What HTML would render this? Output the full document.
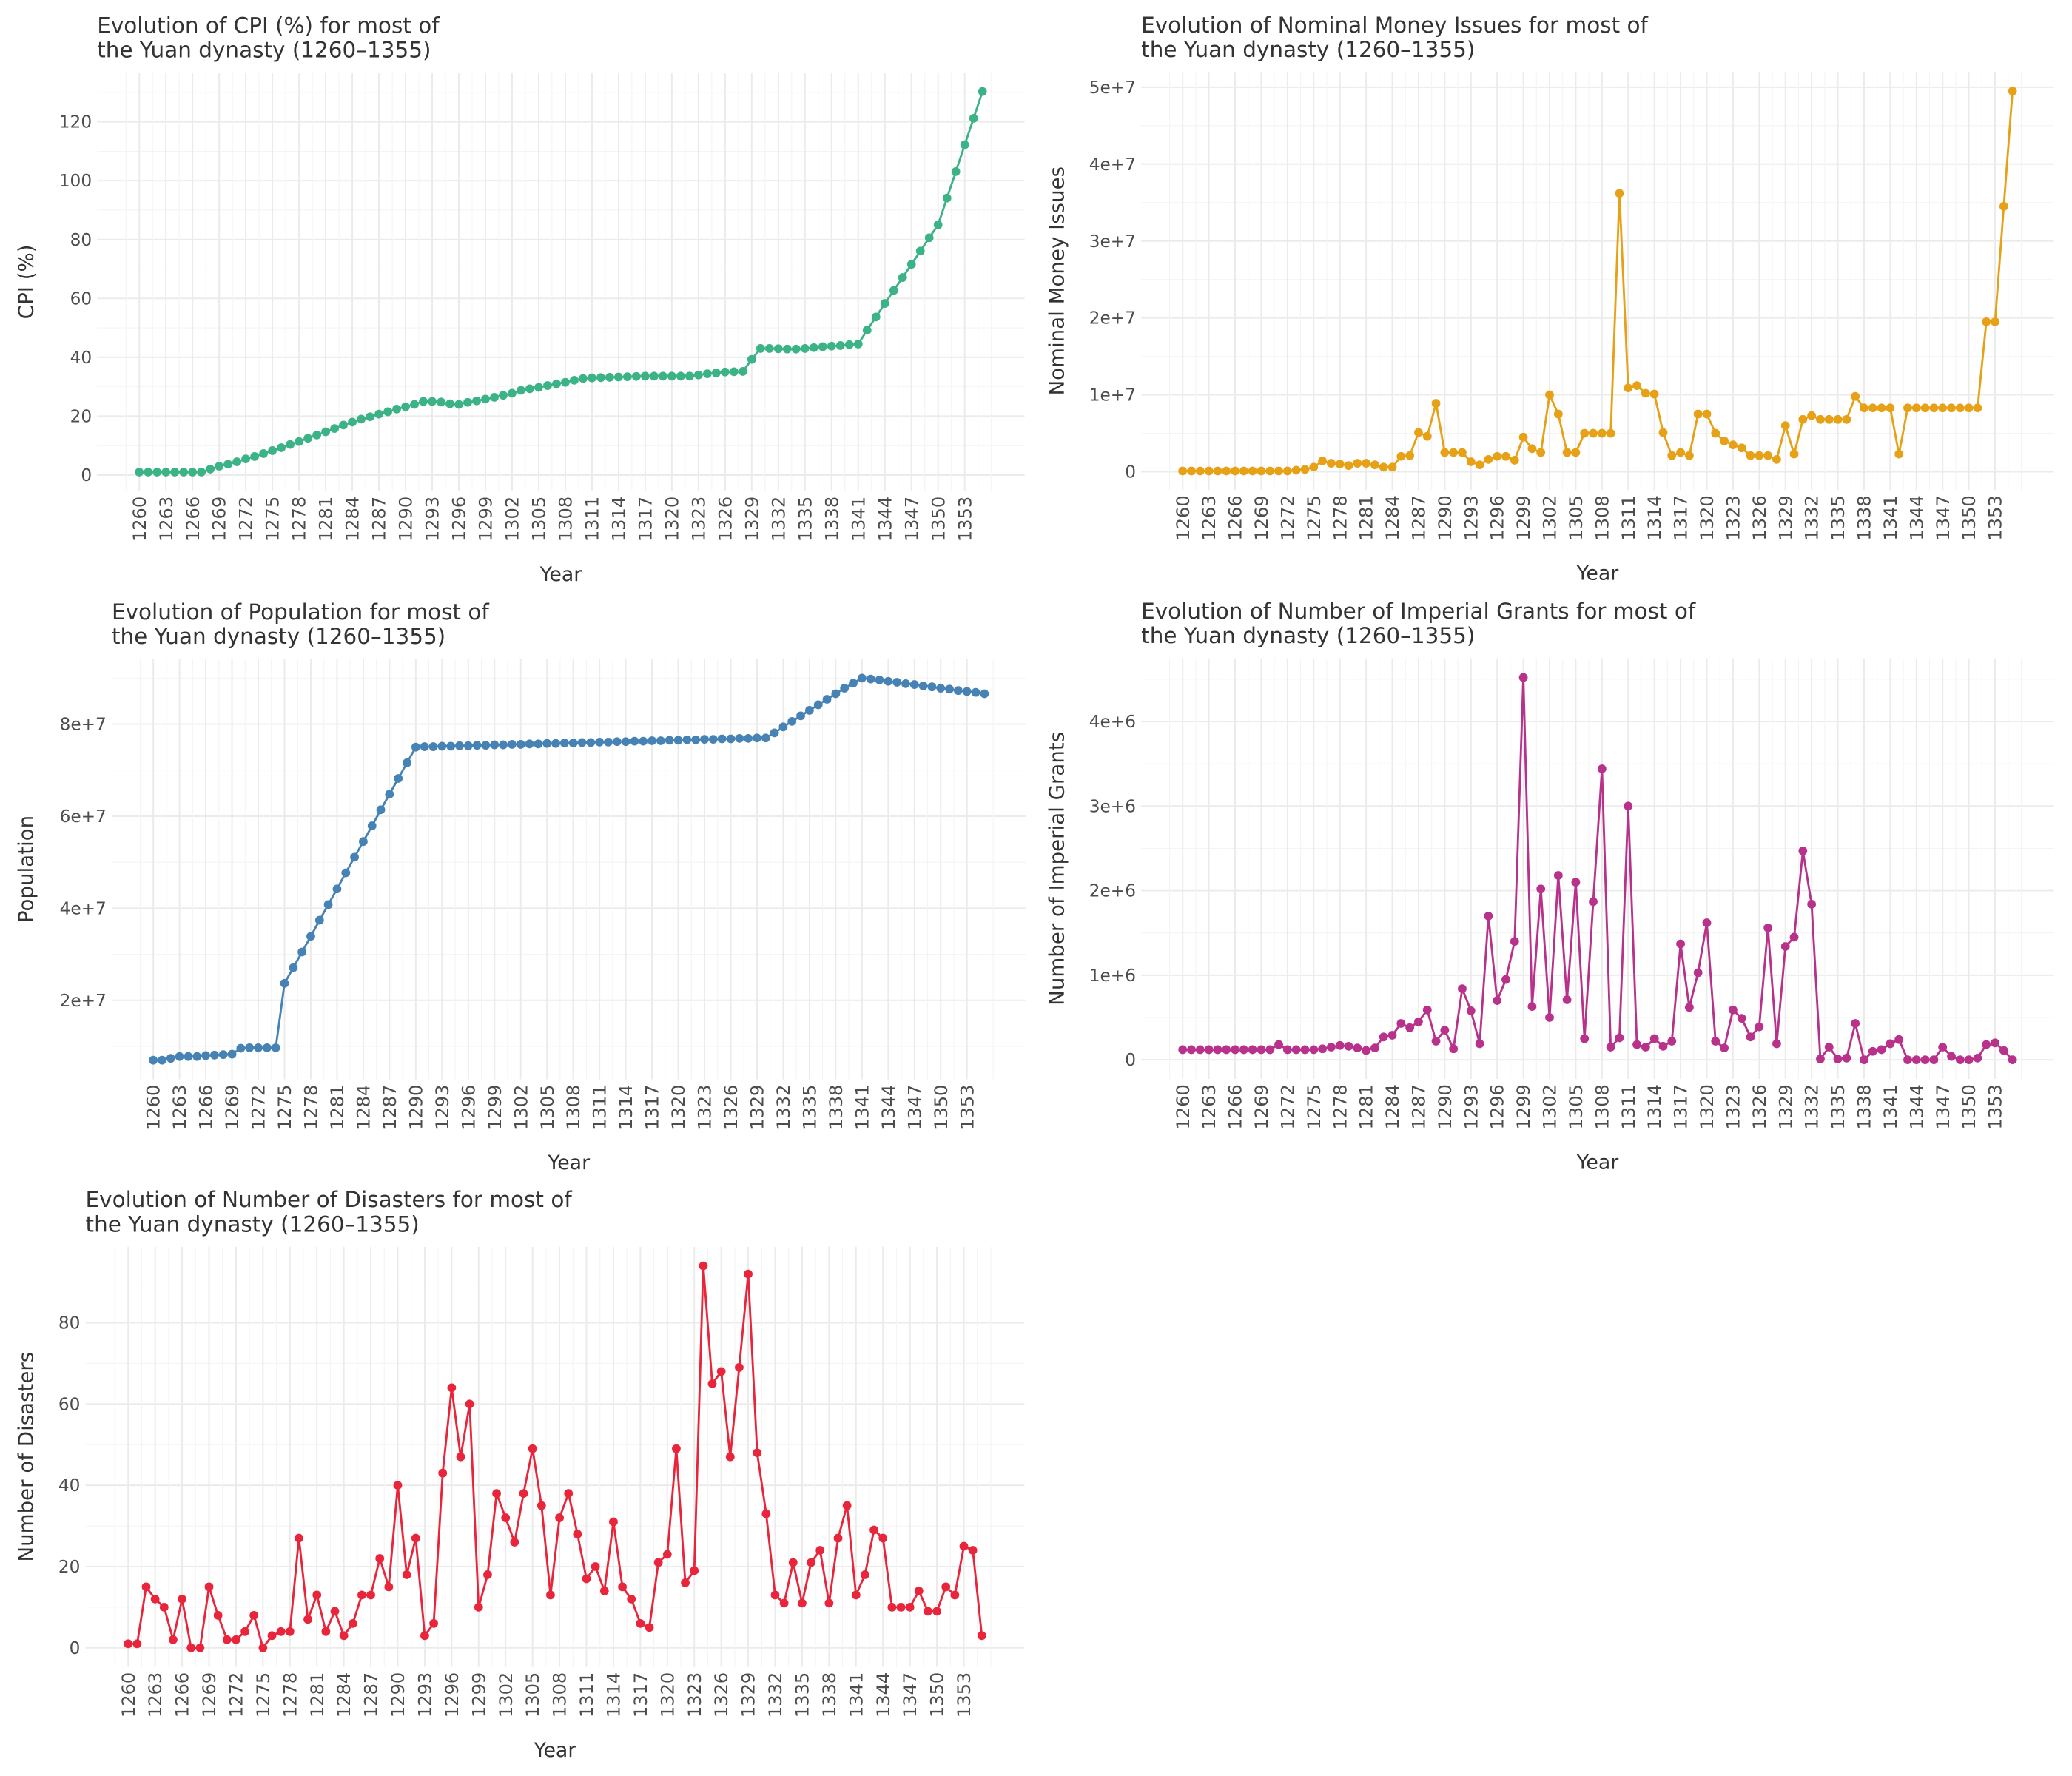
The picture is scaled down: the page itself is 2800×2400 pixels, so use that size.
<!DOCTYPE html>
<html><head><meta charset="utf-8"><style>
html,body{margin:0;padding:0;background:#fff;}
svg{display:block;}
</style></head><body>
<svg id="chart" xmlns="http://www.w3.org/2000/svg" width="2800" height="2400" viewBox="0 0 1568 1344"></svg>
<script>
const years = [];
for (let y = 1260; y <= 1355; y++) years.push(y);
const xTickLabels = [1260,1263,1266,1269,1272,1275,1278,1281,1284,1287,1290,1293,1296,1299,1302,1305,1308,1311,1314,1317,1320,1323,1326,1329,1332,1335,1338,1341,1344,1347,1350,1353];

const cpiValues = [1,1,1,1,1,1,1,1,2,3,3.7,4.5,5.5,6.3,7.3,8.3,9.3,10.4,11.4,12.5,13.6,14.7,15.8,17,18,19,19.8,20.7,21.5,22.4,23.2,24,25,25,24.8,24.2,24,24.7,25.2,25.8,26.4,27.1,27.8,28.8,29.3,29.8,30.4,31,31.5,32.2,32.8,33,33.1,33.2,33.3,33.4,33.5,33.6,33.6,33.6,33.6,33.6,33.6,34,34.4,34.7,35,35.1,35.2,39.3,43,43,42.9,42.8,42.8,43,43.3,43.6,43.8,44,44.3,44.5,49.2,53.7,58.3,62.7,67.1,71.6,76.1,80.6,85,94.1,103.1,112.2,121.2,130.3];
const cpiTicks = [0,20,40,60,80,100,120];
const cpiTickLabels = ["0","20","40","60","80","100","120"];

const moneyValues = [0.1,0.1,0.1,0.1,0.1,0.1,0.1,0.1,0.1,0.1,0.1,0.1,0.1,0.2,0.3,0.6,1.4,1.1,1.0,0.8,1.1,1.1,0.9,0.6,0.6,2.0,2.1,5.1,4.6,8.9,2.5,2.5,2.5,1.3,0.9,1.6,2.0,2.0,1.5,4.5,3.0,2.5,10.0,7.5,2.5,2.5,5.0,5.0,5.0,5.0,36.2,10.9,11.2,10.2,10.1,5.1,2.1,2.5,2.1,7.5,7.5,5.0,4.0,3.5,3.1,2.1,2.1,2.1,1.6,6.0,2.3,6.8,7.3,6.8,6.8,6.8,6.8,9.8,8.3,8.3,8.3,8.3,2.3,8.3,8.3,8.3,8.3,8.3,8.3,8.3,8.3,8.3,19.5,19.5,34.5,49.5];
const moneyTicks = [0,10,20,30,40,50];
const moneyTickLabels = ["0","1e+7","2e+7","3e+7","4e+7","5e+7"];

const popValues = [7.0,7.0,7.4,7.8,7.8,7.8,8.0,8.1,8.2,8.3,9.6,9.7,9.7,9.7,9.7,23.7,27.1,30.5,33.9,37.4,40.8,44.2,47.7,51.1,54.5,57.9,61.4,64.8,68.2,71.6,75.0,75.1,75.1,75.2,75.2,75.3,75.3,75.4,75.4,75.5,75.5,75.6,75.6,75.7,75.7,75.8,75.8,75.9,75.9,76.0,76.0,76.1,76.1,76.2,76.2,76.3,76.3,76.4,76.4,76.5,76.5,76.6,76.6,76.7,76.7,76.8,76.8,76.9,76.9,77.0,77.0,78.1,79.4,80.6,81.8,83.0,84.2,85.4,86.6,87.8,88.9,90.0,89.8,89.6,89.3,89.1,88.8,88.6,88.3,88.1,87.8,87.6,87.3,87.1,86.9,86.6];
const popTicks = [20,40,60,80];
const popTickLabels = ["2e+7","4e+7","6e+7","8e+7"];

const grantValues = [0.12,0.12,0.12,0.12,0.12,0.12,0.12,0.12,0.12,0.12,0.12,0.18,0.12,0.12,0.12,0.12,0.13,0.15,0.17,0.16,0.14,0.11,0.14,0.27,0.29,0.43,0.38,0.45,0.59,0.22,0.35,0.13,0.84,0.58,0.19,1.70,0.70,0.95,1.40,4.52,0.63,2.02,0.50,2.18,0.71,2.10,0.25,1.87,3.44,0.15,0.26,3.00,0.18,0.15,0.25,0.16,0.22,1.37,0.62,1.03,1.62,0.22,0.14,0.59,0.49,0.27,0.39,1.56,0.19,1.34,1.45,2.47,1.84,0.01,0.15,0.01,0.02,0.43,0,0.10,0.12,0.19,0.24,0,0,0,0,0.15,0.04,0,0,0.02,0.18,0.20,0.11,0];
const grantTicks = [0,1,2,3,4];
const grantTickLabels = ["0","1e+6","2e+6","3e+6","4e+6"];

const disasterValues = [1,1,15,12,10,2,12,0,0,15,8,2,2,4,8,0,3,4,4,27,7,13,4,9,3,6,13,13,22,15,40,18,27,3,6,43,64,47,60,10,18,38,32,26,38,49,35,13,32,38,28,17,20,14,31,15,12,6,5,21,23,49,16,19,94,65,68,47,69,92,48,33,13,11,21,11,21,24,11,27,35,13,18,29,27,10,10,10,14,9,9,15,13,25,24,3];
const disasterTicks = [0,20,40,60,80];
const disasterTickLabels = ["0","20","40","60","80"];

const NS = "http://www.w3.org/2000/svg";
const svg = document.getElementById("chart");
function mk(tag, attrs, parent) {
  const e = document.createElementNS(NS, tag);
  for (const k in attrs) e.setAttribute(k, attrs[k]);
  parent.appendChild(e);
  return e;
}

function drawPanel(cfg) {
  const g = mk("g", {}, svg);
  
  
  const x0 = 1260, x1 = 1355;
  const sx = (cfg.xb - cfg.xa) / (x1 - x0);
  const xScale = v => cfg.xa + (v - x0) * sx;
  const sy = (cfg.py1 - cfg.py0) / (cfg.v1 - cfg.v0);
  const yScale = v => cfg.py0 + (v - cfg.v0) * sy;
  const vals = cfg.values;
  const mn = Math.min(...vals), mx = Math.max(...vals);
  const ex = (mx - mn) * 0.05;
  const top = yScale(mx + ex), bottom = yScale(mn - ex);
  const left = xScale(x0 - 4.75), right = xScale(x1 + 4.75);
  const step = cfg.ticks[1] - cfg.ticks[0];
  for (let v = cfg.ticks[0] - step; v <= cfg.ticks[cfg.ticks.length - 1] + step; v += step / 2) {
    const y = yScale(v);
    if (y < top - 0.1 || y > bottom + 0.1) continue;
    const major = cfg.ticks.some(t => Math.abs(t - v) < 1e-9);
    const l = mk("line", {x1: left, x2: right, y1: y, y2: y, stroke: major ? "#ebebeb" : "#f4f4f4", "stroke-width": major ? 1.1 : 0.6}, g);
    
    
  }
  for (let v = 1258.5; v <= 1356.6; v += 1.5) {
    const x = xScale(v);
    if (x < left || x > right) continue;
    const major = xTickLabels.some(t => Math.abs(t - v) < 1e-9);
    const l = mk("line", {x1: x, x2: x, y1: top, y2: bottom, stroke: major ? "#ebebeb" : "#f4f4f4", "stroke-width": major ? 1.1 : 0.6}, g);
    
    
  }
  cfg.ticks.forEach((t, i) => {
    const tx = mk("text", {x: left - 4, y: yScale(t) + 4.5, "text-anchor": "end", "font-family": "DejaVu Sans, sans-serif", "font-size": 13, fill: "#4d4d4d"}, g);
    tx.textContent = cfg.tickLabels[i];
    
    
  });
  xTickLabels.forEach(t => {
    const x = xScale(t);
    const tx = mk("text", {x: 0, y: 0, transform: `translate(${x + 4.8},${bottom + 4}) rotate(-90)`, "text-anchor": "end", "font-family": "DejaVu Sans, sans-serif", "font-size": 13.5, fill: "#4d4d4d"}, g);
    tx.textContent = t;
    
    
  });
  const pts = vals.map((v, i) => xScale(years[i]).toFixed(2) + "," + yScale(v).toFixed(2)).join(" ");
  const pl = mk("polyline", {points: pts, fill: "none", stroke: cfg.color, "stroke-width": 1.6}, g);
  
  
  vals.forEach((v, i) => {
    const c = mk("circle", {cx: xScale(years[i]), cy: yScale(v), r: 3.3, fill: cfg.color}, g);
    
    
  });
  const t1 = mk("text", {x: left, y: top - 30, "font-family": "DejaVu Sans, sans-serif", "font-size": 16.5, fill: "#333"}, g);
  t1.textContent = cfg.title;
  
  
  const t2 = mk("text", {x: left, y: top - 11.5, "font-family": "DejaVu Sans, sans-serif", "font-size": 16.5, fill: "#333"}, g);
  t2.textContent = "the Yuan dynasty (1260\u20131355)";
  
  
  const xt = mk("text", {x: (left + right) / 2, y: bottom + 68, "text-anchor": "middle", "font-family": "DejaVu Sans, sans-serif", "font-size": 15, fill: "#333"}, g);
  xt.textContent = "Year";
  
  
  const yt = mk("text", {x: 0, y: 0, transform: `translate(${cfg.ytx},${(top + bottom) / 2}) rotate(-90)`, "text-anchor": "middle", "font-family": "DejaVu Sans, sans-serif", "font-size": 15.5, fill: "#333"}, g);
  yt.textContent = cfg.ytitle;
  
  
}

drawPanel({name: "cpi", values: cpiValues, ticks: cpiTicks, tickLabels: cpiTickLabels, color: "#3bb387",
  xa: 105.4, xb: 743.5, v0: 0, py0: 359.5, v1: 120, py1: 92.2, ytx: 25,
  title: "Evolution of CPI (%) for most of", ytitle: "CPI (%)"});
drawPanel({name: "money", values: moneyValues, ticks: moneyTicks, tickLabels: moneyTickLabels, color: "#e6a117",
  xa: 895, xb: 1523, v0: 0, py0: 357, v1: 50, py1: 66, ytx: 805,
  title: "Evolution of Nominal Money Issues for most of", ytitle: "Nominal Money Issues"});
drawPanel({name: "population", values: popValues, ticks: popTicks, tickLabels: popTickLabels, color: "#4682b4",
  xa: 116, xb: 745, v0: 20, py0: 757, v1: 80, py1: 548, ytx: 25,
  title: "Evolution of Population for most of", ytitle: "Population"});
drawPanel({name: "grants", values: grantValues, ticks: grantTicks, tickLabels: grantTickLabels, color: "#b8318a",
  xa: 895, xb: 1523, v0: 0, py0: 802, v1: 4, py1: 546, ytx: 805,
  title: "Evolution of Number of Imperial Grants for most of", ytitle: "Number of Imperial Grants"});
drawPanel({name: "disasters", values: disasterValues, ticks: disasterTicks, tickLabels: disasterTickLabels, color: "#e8253a",
  xa: 97, xb: 743, v0: 0, py0: 1247, v1: 80, py1: 1001, ytx: 25,
  title: "Evolution of Number of Disasters for most of", ytitle: "Number of Disasters"});
</script>
</body></html>
